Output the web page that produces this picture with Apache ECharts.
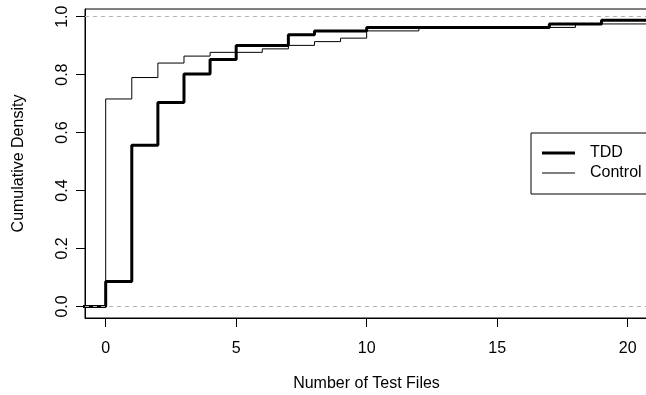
<!DOCTYPE html>
<html>
<head>
<meta charset="utf-8">
<script src="https://cdn.jsdelivr.net/npm/echarts@6/dist/echarts.min.js"></script>
<style>html,body{margin:0;padding:0;background:#fff}#c{width:646px;height:395px}</style>
</head>
<body>
<div id="c"></div>
<script>
// Step points: value holds from x until the next x
const tddX  = [-1, 0, 1, 2, 3, 4, 5, 7, 8, 10, 17, 19, 22];
const tddY  = [0, 0.086, 0.556, 0.704, 0.802, 0.852, 0.901, 0.938, 0.951, 0.963, 0.975, 0.988, 0.988];
const ctrlX = [-1, 0, 1, 2, 3, 4, 6, 7, 8, 9, 10, 12, 18, 22];
const ctrlY = [0, 0.716, 0.790, 0.840, 0.864, 0.877, 0.889, 0.901, 0.914, 0.926, 0.951, 0.963, 0.975, 0.975];
const xTicks = [0, 5, 10, 15, 20];
const yTicks = [0, 0.2, 0.4, 0.6, 0.8, 1.0];
const refLines = [0, 1];
const seriesNames = ['TDD', 'Control'];

const FONT = '"Liberation Sans", Arial, Helvetica, sans-serif';
const FS = 16;
const chart = echarts.init(document.getElementById('c'), null, {renderer: 'canvas'});
const zip = (xs, ys) => xs.map((x, i) => [x, ys[i]]);

chart.setOption({
  animation: false,
  backgroundColor: '#fff',
  textStyle: {fontFamily: FONT, color: '#000'},
  grid: {left: 85, top: 9, right: -2, bottom: 77, show: true, borderColor: '#000', borderWidth: 1,
         containLabel: false, outerBoundsMode: 'none'},
  xAxis: {
    type: 'value', min: -0.793, max: 20.78,
    name: 'Number of Test Files', nameLocation: 'middle', nameGap: 58,
    nameTextStyle: {fontSize: FS, color: '#000', fontFamily: FONT},
    axisLine: {show: true, onZero: false, lineStyle: {color: '#000', width: 1}},
    axisTick: {show: true, inside: false, length: 9, customValues: xTicks, lineStyle: {color: '#000'}},
    axisLabel: {show: true, customValues: xTicks, margin: 23, fontSize: FS, color: '#000', fontFamily: FONT},
    splitLine: {show: false}
  },
  yAxis: {
    type: 'value', min: -0.04, max: 1.0266,
    name: 'Cumulative Density', nameLocation: 'middle', nameGap: 58, nameRotate: 90,
    nameTextStyle: {fontSize: FS, color: '#000', fontFamily: FONT},
    axisLine: {show: true, onZero: false, lineStyle: {color: '#000', width: 1}},
    axisTick: {show: true, inside: false, length: 9, customValues: yTicks, lineStyle: {color: '#000'}},
    axisLabel: {show: true, customValues: yTicks, rotate: 90, margin: 14, fontSize: FS, color: '#000', fontFamily: FONT,
      formatter: v => v.toFixed(1)},
    splitLine: {show: false}
  },
  legend: {
    show: true, left: 531, top: 133, orient: 'vertical',
    padding: [12, 60, 13, 11], itemGap: 4, itemWidth: 33, itemHeight: 18,
    borderColor: '#000', borderWidth: 1, backgroundColor: '#fff', borderRadius: 0,
    textStyle: {fontSize: FS, color: '#000', fontFamily: FONT, padding: [0, 0, 0, 10]},
    data: [
      {name: seriesNames[0], icon: 'path://M0,0H33V3H0Z', itemStyle: {color: '#000'}},
      {name: seriesNames[1], icon: 'path://M0,0H33V1H0Z', itemStyle: {color: '#000'}}
    ]
  },
  series: [
    {
      name: seriesNames[1], type: 'line', step: 'end', showSymbol: false, symbol: 'none', clip: true,
      data: zip(ctrlX, ctrlY), lineStyle: {color: '#000', width: 1}, itemStyle: {color: '#000'}, z: 3,
      markLine: {
        silent: true, symbol: ['none', 'none'], label: {show: false},
        lineStyle: {color: '#b3b3b3', type: [4, 4], width: 1},
        data: refLines.map(v => ({yAxis: v}))
      }
    },
    {
      name: seriesNames[0], type: 'line', step: 'end', showSymbol: false, symbol: 'none', clip: true,
      data: zip(tddX, tddY), lineStyle: {color: '#000', width: 3, cap: 'square'}, itemStyle: {color: '#000'}, z: 4
    }
  ]
});
</script>
</body>
</html>
